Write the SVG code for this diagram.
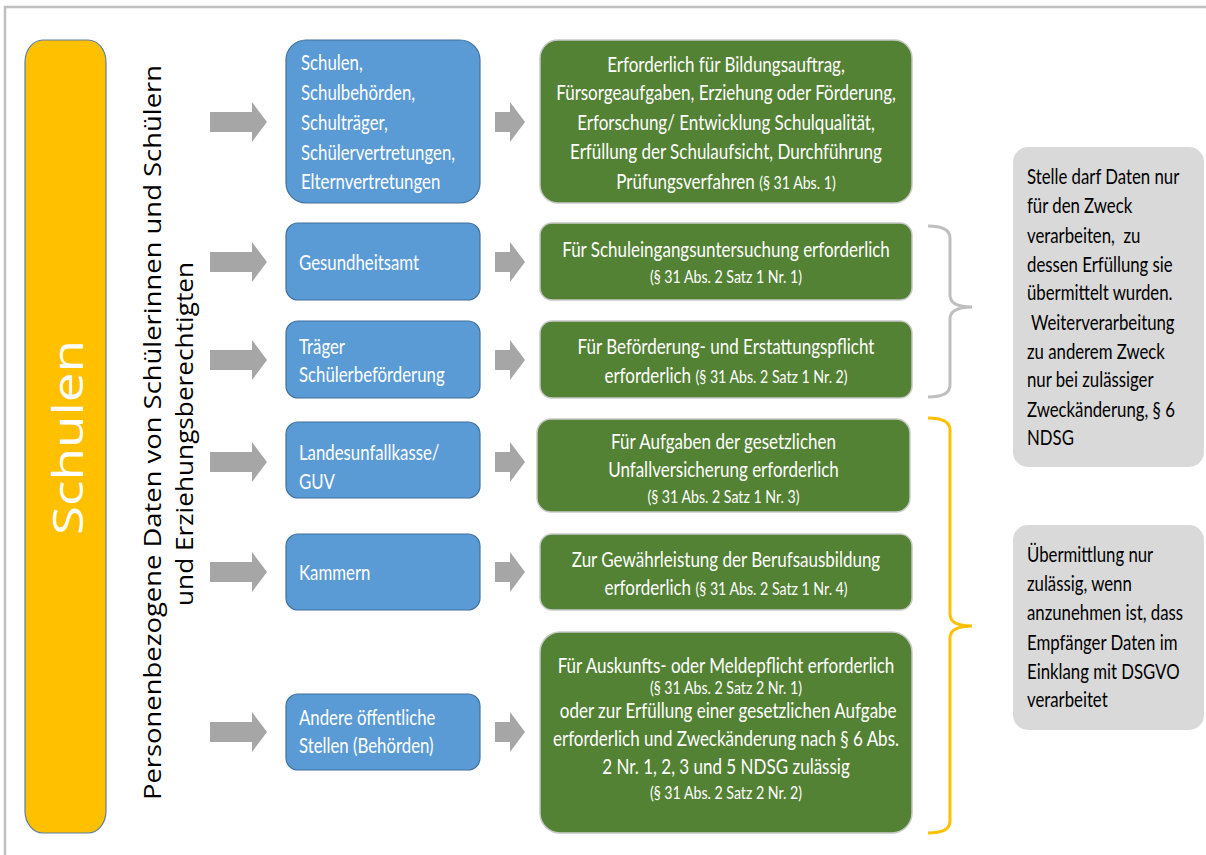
<svg xmlns="http://www.w3.org/2000/svg" width="1206" height="855" viewBox="0 0 1206 855">
<defs>
<style>
.frame{fill:none;stroke:#BFBFBF;stroke-width:2.5}
.orange{fill:#FFC000;stroke:#5B7FA6;stroke-width:1.2}
.blue{fill:#5B9BD5;stroke:#41719C;stroke-width:1.2}
.green{fill:#548235;stroke:#C8C8C8;stroke-width:1.5}
.note{fill:#D9D9D9}
.arrow{fill:#A6A6A6}
.brace{fill:none;stroke-width:3}
.t{font-family:Lato,"Liberation Sans",sans-serif;font-size:21px;fill:#FFFFFF}
.c{text-anchor:middle}
.s{font-size:17.5px}
.k{fill:#000000;font-size:21.5px}
.v{font-family:"Open Sans","DejaVu Sans",sans-serif;fill:#000000;text-anchor:middle}
.vw{font-family:"Open Sans","DejaVu Sans",sans-serif;fill:#FFFFFF;text-anchor:middle}
</style>
</defs>
<rect x="0" y="0" width="1206" height="855" fill="#FFFFFF"/>
<path class="frame" d="M5,856 L5,7 L1206,7"/>

<g id="schulen">
<rect class="orange" x="25" y="40" width="81" height="793" rx="18" ry="22"/>
<text class="vw" transform="translate(83,437.5) rotate(-90)" font-size="42" textLength="195" lengthAdjust="spacingAndGlyphs">Schulen</text>
</g>

<g id="label">
<text class="v" transform="translate(161,432.5) rotate(-90)" font-size="24" textLength="735" lengthAdjust="spacingAndGlyphs">Personenbezogene Daten von Schülerinnen und Schülern</text>
<text class="v" transform="translate(193,434) rotate(-90)" font-size="24" textLength="344" lengthAdjust="spacingAndGlyphs">und Erziehungsberechtigten</text>
</g>

<g id="connectors">
<polygon class="arrow" points="210,112 252,112 252,102 267,122 252,142 252,132 210,132"/>
<polygon class="arrow" points="210,252 252,252 252,242 267,262 252,282 252,272 210,272"/>
<polygon class="arrow" points="210,350 252,350 252,340 267,360 252,380 252,370 210,370"/>
<polygon class="arrow" points="210,452 252,452 252,442 267,462 252,482 252,472 210,472"/>
<polygon class="arrow" points="210,562 252,562 252,552 267,572 252,592 252,582 210,582"/>
<polygon class="arrow" points="210,722 252,722 252,712 267,732 252,752 252,742 210,742"/>
<polygon class="arrow" points="495,112 510,112 510,102 525,122 510,142 510,132 495,132"/>
<polygon class="arrow" points="495,252 510,252 510,242 525,262 510,282 510,272 495,272"/>
<polygon class="arrow" points="495,350 510,350 510,340 525,360 510,380 510,370 495,370"/>
<polygon class="arrow" points="495,452 510,452 510,442 525,462 510,482 510,472 495,472"/>
<polygon class="arrow" points="495,562 510,562 510,552 525,572 510,592 510,582 495,582"/>
<polygon class="arrow" points="495,722 510,722 510,712 525,732 510,752 510,742 495,742"/>
<path class="brace" stroke="#BFBFBF" d="M928,226 Q950,226 950,238 L950,295 Q950,307 972,307 Q950,307 950,319 L950,385 Q950,397 928,397"/>
<path class="brace" stroke="#FFC000" d="M928,418 Q950,418 950,430 L950,614 Q950,626 972,626 Q950,626 950,638 L950,821 Q950,833 928,833"/>
</g>

<g id="b1">
<rect class="blue" x="286" y="40" width="194" height="163" rx="20"/>
<g transform="translate(301,0) scale(0.8,1)"><text class="t"><tspan x="0" y="70">Schulen,</tspan><tspan x="0" y="100">Schulbehörden,</tspan><tspan x="0" y="130">Schulträger,</tspan><tspan x="0" y="160">Schülervertretungen,</tspan><tspan x="0" y="189">Elternvertretungen</tspan></text></g>
</g>
<g id="b2">
<rect class="blue" x="286" y="223" width="194" height="77" rx="12"/>
<g transform="translate(299,0) scale(0.8,1)"><text class="t"><tspan x="0" y="270">Gesundheitsamt</tspan></text></g>
</g>
<g id="b3">
<rect class="blue" x="286" y="321" width="194" height="77" rx="12"/>
<g transform="translate(299,0) scale(0.8,1)"><text class="t"><tspan x="0" y="354">Träger</tspan><tspan x="0" y="382">Schülerbeförderung</tspan></text></g>
</g>
<g id="b4">
<rect class="blue" x="286" y="422" width="194" height="76" rx="12"/>
<g transform="translate(299,0) scale(0.8,1)"><text class="t"><tspan x="0" y="460">Landesunfallkasse/</tspan><tspan x="0" y="489">GUV</tspan></text></g>
</g>
<g id="b5">
<rect class="blue" x="286" y="534" width="194" height="76" rx="12"/>
<g transform="translate(299,0) scale(0.8,1)"><text class="t"><tspan x="0" y="580">Kammern</tspan></text></g>
</g>
<g id="b6">
<rect class="blue" x="286" y="694" width="194" height="76" rx="12"/>
<g transform="translate(299,0) scale(0.8,1)"><text class="t"><tspan x="0" y="725">Andere öffentliche</tspan><tspan x="0" y="753">Stellen (Behörden)</tspan></text></g>
</g>

<g id="g1">
<rect class="green" x="540" y="40" width="372" height="163" rx="18"/>
<g transform="translate(726,0) scale(0.81,1)"><text class="t c"><tspan x="0" y="72">Erforderlich für Bildungsauftrag,</tspan><tspan x="0" y="100">Fürsorgeaufgaben, Erziehung oder Förderung,</tspan><tspan x="0" y="130">Erforschung/ Entwicklung Schulqualität,</tspan><tspan x="0" y="159">Erfüllung der Schulaufsicht, Durchführung</tspan><tspan x="0" y="189">Prüfungsverfahren <tspan class="s">(§ 31 Abs. 1)</tspan></tspan></text></g>
</g>
<g id="g2">
<rect class="green" x="540" y="223" width="372" height="77" rx="12"/>
<g transform="translate(726,0) scale(0.81,1)"><text class="t c"><tspan x="0" y="257">Für Schuleingangsuntersuchung erforderlich</tspan><tspan x="0" y="283" class="s">(§ 31 Abs. 2 Satz 1 Nr. 1)</tspan></text></g>
</g>
<g id="g3">
<rect class="green" x="540" y="321" width="372" height="77" rx="12"/>
<g transform="translate(726,0) scale(0.81,1)"><text class="t c"><tspan x="0" y="354">Für Beförderung- und Erstattungspflicht</tspan><tspan x="0" y="383">erforderlich <tspan class="s">(§ 31 Abs. 2 Satz 1 Nr. 2)</tspan></tspan></text></g>
</g>
<g id="g4">
<rect class="green" x="537" y="419" width="373" height="93" rx="14"/>
<g transform="translate(723.5,0) scale(0.81,1)"><text class="t c"><tspan x="0" y="449">Für Aufgaben der gesetzlichen</tspan><tspan x="0" y="477">Unfallversicherung erforderlich</tspan><tspan x="0" y="503" class="s">(§ 31 Abs. 2 Satz 1 Nr. 3)</tspan></text></g>
</g>
<g id="g5">
<rect class="green" x="540" y="534" width="372" height="76" rx="12"/>
<g transform="translate(726,0) scale(0.81,1)"><text class="t c"><tspan x="0" y="567">Zur Gewährleistung der Berufsausbildung</tspan><tspan x="0" y="595">erforderlich <tspan class="s">(§ 31 Abs. 2 Satz 1 Nr. 4)</tspan></tspan></text></g>
</g>
<g id="g6">
<rect class="green" x="540" y="632" width="372" height="201" rx="20"/>
<g transform="translate(726,0) scale(0.81,1)"><text class="t c"><tspan x="0" y="673">Für Auskunfts- oder Meldepflicht erforderlich</tspan><tspan x="0" y="694" class="s">(§ 31 Abs. 2 Satz 2 Nr. 1)</tspan><tspan x="0" y="718">&#160;oder zur Erfüllung einer gesetzlichen Aufgabe</tspan><tspan x="0" y="746">erforderlich und Zweckänderung nach § 6 Abs.</tspan><tspan x="0" y="774">2 Nr. 1, 2, 3 und 5 NDSG zulässig</tspan><tspan x="0" y="799" class="s">(§ 31 Abs. 2 Satz 2 Nr. 2)</tspan></text></g>
</g>

<g id="n1">
<rect class="note" x="1013" y="147" width="191" height="320" rx="15"/>
<g transform="translate(1027,0) scale(0.78,1)"><text class="t k"><tspan x="0" y="184">Stelle darf Daten nur</tspan><tspan x="0" y="213">für den Zweck</tspan><tspan x="0" y="243">verarbeiten,&#160; zu</tspan><tspan x="0" y="272">dessen Erfüllung sie</tspan><tspan x="0" y="300">übermittelt wurden.</tspan><tspan x="0" y="330">&#160;Weiterverarbeitung</tspan><tspan x="0" y="359">zu anderem Zweck</tspan><tspan x="0" y="387">nur bei zulässiger</tspan><tspan x="0" y="417">Zweckänderung, § 6</tspan><tspan x="0" y="445">NDSG</tspan></text></g>
</g>
<g id="n2">
<rect class="note" x="1013" y="525" width="191" height="205" rx="15"/>
<g transform="translate(1027,0) scale(0.78,1)"><text class="t k"><tspan x="0" y="562">Übermittlung nur</tspan><tspan x="0" y="591">zulässig, wenn</tspan><tspan x="0" y="620">anzunehmen ist, dass</tspan><tspan x="0" y="650">Empfänger Daten im</tspan><tspan x="0" y="679">Einklang mit DSGVO</tspan><tspan x="0" y="707">verarbeitet</tspan></text></g>
</g>
</svg>
